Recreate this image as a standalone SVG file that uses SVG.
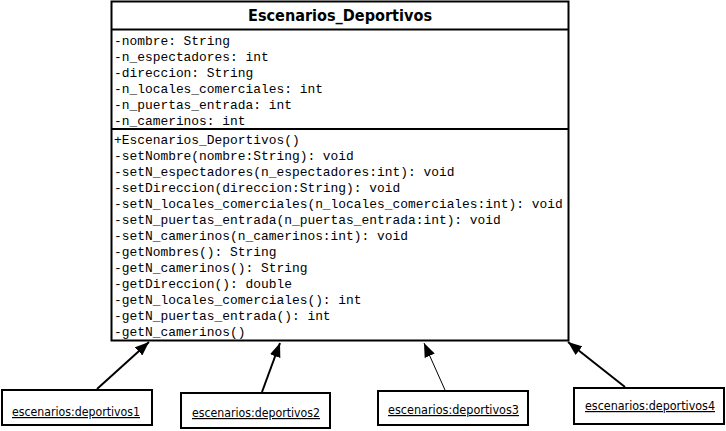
<svg xmlns="http://www.w3.org/2000/svg" width="726" height="431" viewBox="0 0 726 431">
<style>
.box{fill:#fff;stroke:#000;stroke-width:2}
.title{font-family:"DejaVu Sans","Liberation Sans",sans-serif;font-weight:bold;font-size:16px;fill:#000}
.mono{font-family:"Liberation Mono","Courier New",monospace;font-size:12.9px;fill:#000}
.obj{font-family:"DejaVu Sans","Liberation Sans",sans-serif;font-size:12px;fill:#000;text-decoration:underline}
.conn{stroke:#000;fill:none}
</style>
<defs>
<marker id="ah" viewBox="0 0 10 10" refX="10" refY="5" markerWidth="7" markerHeight="7" markerUnits="userSpaceOnUse" orient="auto">
<path d="M0,0 L10,5 L0,10 z" fill="#000"/>
</marker>
<marker id="ah2" viewBox="0 0 10 10" refX="10" refY="5" markerWidth="14" markerHeight="11" markerUnits="userSpaceOnUse" orient="auto" preserveAspectRatio="none">
<path d="M0,0 L10,5 L0,10 z" fill="#000"/>
</marker>
</defs>
<g id="class-Escenarios_Deportivos">
<rect class="box" x="111.5" y="1.5" width="457" height="339"/>
<line class="conn" stroke-width="2" x1="111" y1="29.5" x2="569" y2="29.5"/>
<line class="conn" stroke-width="2" x1="111" y1="129" x2="569" y2="129"/>
<text class="title" x="340" y="21" text-anchor="middle" textLength="184" lengthAdjust="spacingAndGlyphs">Escenarios_Deportivos</text>
<g class="mono">
<text x="114" y="45">-nombre: String</text>
<text x="114" y="61">-n_espectadores: int</text>
<text x="114" y="77">-direccion: String</text>
<text x="114" y="93">-n_locales_comerciales: int</text>
<text x="114" y="109">-n_puertas_entrada: int</text>
<text x="114" y="125">-n_camerinos: int</text>
<text x="114" y="144">+Escenarios_Deportivos()</text>
<text x="114" y="160">-setNombre(nombre:String): void</text>
<text x="114" y="176">-setN_espectadores(n_espectadores:int): void</text>
<text x="114" y="192">-setDireccion(direccion:String): void</text>
<text x="114" y="208">-setN_locales_comerciales(n_locales_comerciales:int): void</text>
<text x="114" y="224">-setN_puertas_entrada(n_puertas_entrada:int): void</text>
<text x="114" y="240">-setN_camerinos(n_camerinos:int): void</text>
<text x="114" y="256">-getNombres(): String</text>
<text x="114" y="272">-getN_camerinos(): String</text>
<text x="114" y="288">-getDireccion(): double</text>
<text x="114" y="304">-getN_locales_comerciales(): int</text>
<text x="114" y="320">-getN_puertas_entrada(): int</text>
<text x="114" y="336">-getN_camerinos()</text>
</g>
</g>
<g id="obj1">
<rect class="box" x="2" y="390" width="150" height="35"/>
<text class="obj" x="12" y="416" textLength="128" lengthAdjust="spacingAndGlyphs">escenarios:deportivos1</text>
</g>
<g id="obj2">
<rect class="box" x="181" y="393" width="149" height="35"/>
<text class="obj" x="192" y="417" textLength="128" lengthAdjust="spacingAndGlyphs">escenarios:deportivos2</text>
</g>
<g id="obj3">
<rect class="box" x="378" y="391" width="150" height="34"/>
<text class="obj" x="388" y="414" textLength="131" lengthAdjust="spacingAndGlyphs">escenarios:deportivos3</text>
</g>
<g id="obj4">
<rect class="box" x="574" y="388" width="150" height="36"/>
<text class="obj" x="585" y="410" textLength="130" lengthAdjust="spacingAndGlyphs">escenarios:deportivos4</text>
</g>
<g id="connectors">
<line class="conn" stroke-width="2" x1="97" y1="389" x2="149" y2="342" marker-end="url(#ah2)"/>
<line class="conn" stroke-width="2" x1="262" y1="392" x2="280" y2="343" marker-end="url(#ah2)"/>
<line class="conn" stroke-width="1" x1="445" y1="390" x2="424" y2="343" marker-end="url(#ah2)"/>
<line class="conn" stroke-width="2" x1="625" y1="387" x2="568" y2="342" marker-end="url(#ah2)"/>
</g>
</svg>
